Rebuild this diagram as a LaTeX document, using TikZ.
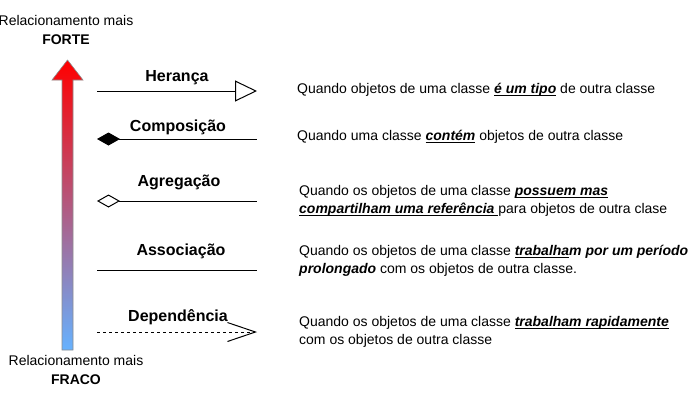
\documentclass[tikz,border=0pt]{standalone}
\usepackage{fontspec}
\setmainfont{Liberation Sans}
\usetikzlibrary{arrows.meta}
\definecolor{strongred}{RGB}{255,0,0}
\definecolor{weakblue}{RGB}{102,178,255}
\newsavebox{\hlbox}
\newcommand{\hl}[1]{\sbox{\hlbox}{\textbf{\textit{#1}}}\rlap{\rule[-2pt]{\wd\hlbox}{1pt}}\usebox{\hlbox}}
\begin{document}
\begin{tikzpicture}[x=1pt,y=-1pt,
  lbl/.style={font=\fontsize{16}{18}\selectfont\bfseries, inner sep=0pt},
  desc/.style={font=\fontsize{14}{18}\selectfont, anchor=west, align=left, inner sep=0pt},
  side/.style={font=\fontsize{14}{19}\selectfont, align=center, inner sep=0pt},
  rel/.style={line width=1pt, black}]
\useasboundingbox (0,0) rectangle (698,400);

% strength arrow
\shade[top color=strongred, bottom color=weakblue, draw=black!45, line width=0.6pt]
  (62,350) -- (62,80) -- (52,80) -- (67.5,60) -- (83,80) -- (73,80) -- (73,350) -- cycle;
\node[side] (forte) at (66,30) {Relacionamento mais\\\textbf{FORTE}};
\node[side] (fraco) at (76,370) {Relacionamento mais\\\textbf{FRACO}};

% Heranca
\coordinate (h1) at (97,91); \coordinate (h2) at (257,91);
\draw[rel, -{Triangle[open,length=22pt,width=21pt]}] (h1) -- (h2);
\node[lbl] (hl) at (177,78) {Herança};
\node[desc] (hd) at (297,90) {Quando objetos de uma classe \hl{é um tipo} de outra classe};

% Composicao
\coordinate (c1) at (97,139); \coordinate (c2) at (257,139);
\draw[rel, {Diamond[length=23pt,width=13pt]}-] (c1) -- (c2);
\node[lbl] (cl) at (178,127) {Composição};
\node[desc] (cd) at (297,137) {Quando uma classe \hl{contém} objetos de outra classe};

% Agregacao
\coordinate (a1) at (97,201); \coordinate (a2) at (257,201);
\draw[rel, {Diamond[open,length=23pt,width=13pt]}-] (a1) -- (a2);
\node[lbl] (al) at (179,182) {Agregação};
\node[desc] (ad) at (299,201) {Quando os objetos de uma classe \hl{possuem mas}\\\hl{compartilham uma referência }para objetos de outra clase};

% Associacao
\coordinate (s1) at (97,270); \coordinate (s2) at (257,270);
\draw[rel] (s1) -- (s2);
\node[lbl] (sl) at (181,251) {Associação};
\node[desc] (sd) at (299,261) {Quando os objetos de uma classe \hl{trabalha}\textbf{\textit{m por um período}}\\\textbf{\textit{prolongado}} com os objetos de outra classe.};

% Dependencia
\coordinate (d1) at (97,332); \coordinate (d2) at (257,332);
\draw[rel, dash pattern=on 3pt off 3pt, -{Straight Barb[length=28pt,width=19pt]}] (d1) -- (d2);
\node[lbl] (dl) at (178,317) {Dependência};
\node[desc] (dd) at (299,332) {Quando os objetos de uma classe \hl{trabalham rapidamente}\\com os objetos de outra classe};
\end{tikzpicture}
\end{document}
